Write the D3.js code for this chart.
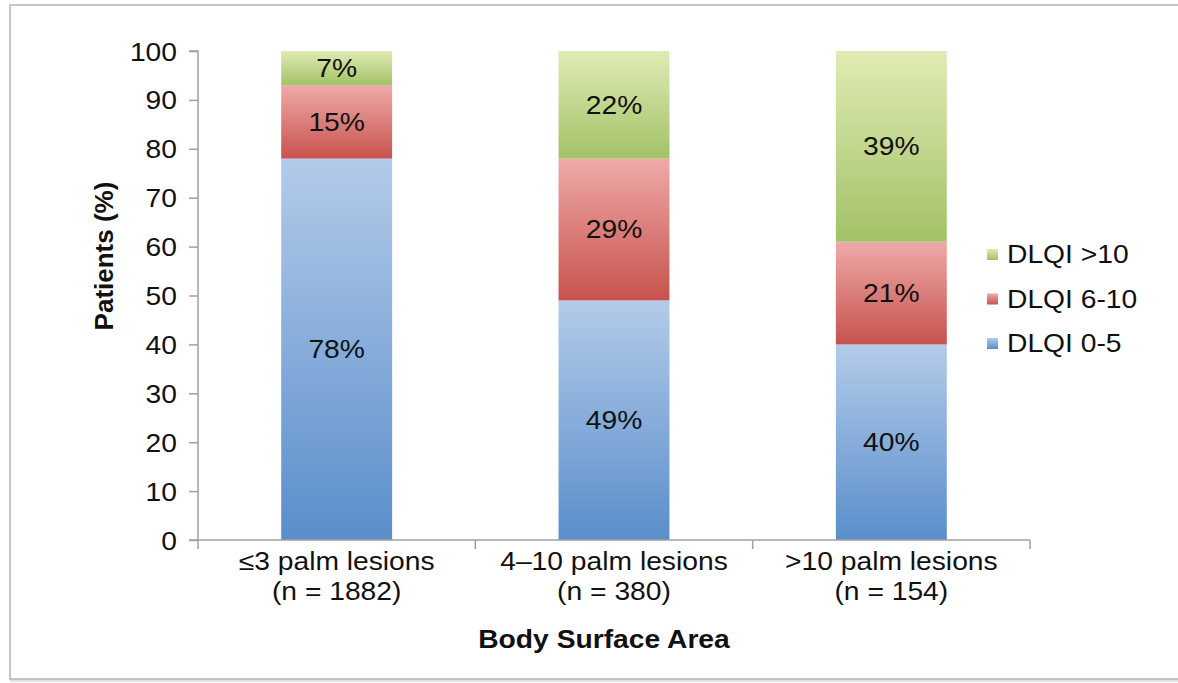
<!DOCTYPE html>
<html><head><meta charset="utf-8">
<script src="https://cdn.jsdelivr.net/npm/d3@7"></script>
<style>body{margin:0;background:#fff}svg{display:block}text{font-family:"Liberation Sans",Arial,sans-serif;fill:#111}</style>
</head><body>
<svg id="c" width="1178" height="683"></svg>
<script>
const categories = ["≤3 palm lesions|(n = 1882)", "4–10 palm lesions|(n = 380)", ">10 palm lesions|(n = 154)"];
const seriesNames = ["DLQI 0-5", "DLQI 6-10", "DLQI >10"];
const dlqi0_5 = [78, 49, 40];
const dlqi6_10 = [15, 29, 21];
const dlqi10plus = [7, 22, 39];
const yTicks = [0,10,20,30,40,50,60,70,80,90,100];

const SX = 1.13;   // horizontal text stretch of the original
const FS = 25;

const svg = d3.select("#c");
// frame
svg.append("rect").attr("x",12).attr("y",8).attr("width",1180).attr("height",672).attr("fill","none").attr("stroke","#e2e2e2").attr("stroke-width",4);
svg.append("rect").attr("x",10).attr("y",5).attr("width",1180).attr("height",674).attr("fill","#fff").attr("stroke","#b5b5b5").attr("stroke-width",1.5);

const grads = [
  {id:"gb", top:"#b3cbe9", bot:"#5a8ecb"},
  {id:"gr", top:"#eeaaa8", bot:"#c8524d"},
  {id:"gg", top:"#e0ebb5", bot:"#a2c266"}
];
const defs = svg.append("defs");
grads.forEach(g=>{
  const lg = defs.append("linearGradient").attr("id",g.id).attr("x1",0).attr("y1",0).attr("x2",0).attr("y2",1);
  lg.append("stop").attr("offset","0%").attr("stop-color",g.top);
  lg.append("stop").attr("offset","100%").attr("stop-color",g.bot);
});

function stext(parent, x, y, txt, opts={}) {
  const t = parent.append("text")
    .attr("transform", `translate(${x},${y}) scale(${SX},1)`)
    .attr("font-size", opts.size || FS)
    .attr("text-anchor", opts.anchor || "middle");
  if (opts.bold) t.attr("font-weight","bold");
  t.text(txt);
  return t;
}

const m = {l:198, r:1030, t:51, b:540};
const x = d3.scaleBand().domain(categories).range([m.l, m.r]).paddingInner(0.6).paddingOuter(0.3);
const y = d3.scaleLinear().domain([0,100]).range([m.b, m.t]);

const data = categories.map((c,i)=>({cat:c, s0:dlqi0_5[i], s1:dlqi6_10[i], s2:dlqi10plus[i]}));
const stack = d3.stack().keys(["s0","s1","s2"])(data);

stack.forEach((layer,li)=>{
  const g = svg.append("g");
  g.selectAll("rect").data(layer).join("rect")
    .attr("x", d=>x(d.data.cat)).attr("width", x.bandwidth())
    .attr("y", d=>y(d[1])).attr("height", d=>y(d[0])-y(d[1]))
    .attr("fill", `url(#${grads[li].id})`);
  layer.forEach(d=>{
    stext(g, x(d.data.cat)+x.bandwidth()/2, (y(d[0])+y(d[1]))/2 + 9, (d[1]-d[0])+"%");
  });
});

// y axis
const ya = svg.append("g").attr("transform",`translate(${m.l},0)`)
  .call(d3.axisLeft(y).tickValues(yTicks).tickSize(9).tickPadding(12));
ya.select(".domain").attr("stroke","#a0a0a0").attr("stroke-width",1.5).attr("d",`M-9,${m.t}H0V${m.b}H-9`);
ya.selectAll(".tick line").attr("stroke","#a0a0a0").attr("stroke-width",1.5);
ya.selectAll(".tick text").attr("font-size",FS).attr("font-family","Liberation Sans, Arial, sans-serif").attr("fill","#111")
  .attr("x", -21/SX).attr("dy","0.36em").attr("transform",`scale(${SX},1)`);

// x axis
const xa = svg.append("g");
xa.append("path").attr("d",`M${m.l},${m.b}H${m.r}`).attr("stroke","#a0a0a0").attr("stroke-width",1.5);
const step = x.step() ;
const bounds = [m.l, ...categories.map(c=>x(c)+x.bandwidth()+ (x.step()-x.bandwidth())/2)];
bounds.forEach(b=>{
  xa.append("path").attr("d",`M${b},${m.b}V${m.b+9}`).attr("stroke","#a0a0a0").attr("stroke-width",1.5);
});
categories.forEach(c=>{
  const parts = c.split("|");
  const cx = x(c)+x.bandwidth()/2;
  stext(svg, cx, 570, parts[0]);
  stext(svg, cx, 600, parts[1]);
});

// titles
stext(svg, 604, 648, "Body Surface Area", {bold:true});
svg.append("text").attr("text-anchor","middle").attr("font-size",26).attr("font-weight","bold")
  .attr("transform","translate(113,256) rotate(-90)").text("Patients (%)");

// legend
const legendOrder = [2,1,0];
legendOrder.forEach((si,k)=>{
  const base = 263 + k*44.5;
  svg.append("rect").attr("x",987).attr("y",base-14).attr("width",11).attr("height",11).attr("fill",`url(#${grads[si].id})`);
  stext(svg, 1007, base, seriesNames[si], {anchor:"start"});
});
</script>
</body></html>
